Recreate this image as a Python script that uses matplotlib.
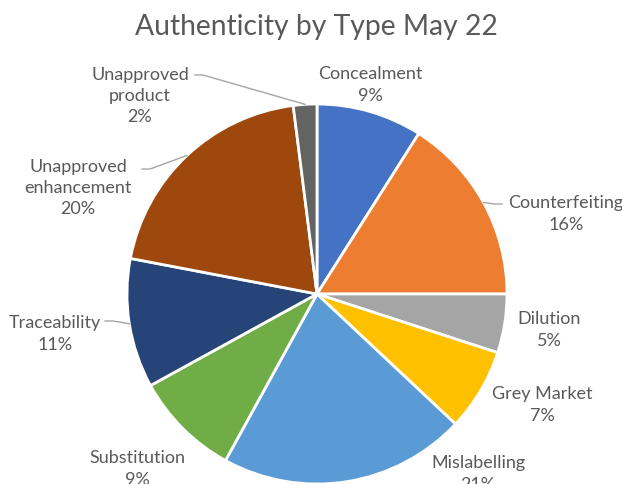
import numpy as np
import matplotlib.pyplot as plt

plt.rcParams['font.family'] = ['Lato', 'DejaVu Sans']

categories = ['Concealment', 'Counterfeiting', 'Dilution', 'Grey Market',
              'Mislabelling', 'Substitution', 'Traceability',
              'Unapproved\nenhancement', 'Unapproved\nproduct']
shares = [9, 16, 5, 7, 21, 9, 11, 20, 2]

colors = ['#4472C4', '#ED7D31', '#A5A5A5', '#FFC000', '#5B9BD5',
          '#70AD47', '#264478', '#9E480E', '#636363']

W, H = 622, 485
cx, cy, R = 317, 295, 190

# label centres in pixel coords (top-left origin)
label_xy = [(370, 85), (566, 214), (549, 330), (542, 405), (478, 474),
            (137, 469), (55, 334), (78, 188), (140, 96)]
# leader line start (near the text), None when no leader
leader_from = [None, (502, 205), None, None, None, None,
               (105, 322), (142, 170), (195, 76)]

def px(x, y):
    return x, H - y

fig = plt.figure(figsize=(W / 100, H / 100), dpi=100)
ax = fig.add_axes([0, 0, 1, 1])

wedges, _ = ax.pie(shares, colors=colors, startangle=90, counterclock=False,
                   center=px(cx, cy), radius=R,
                   wedgeprops=dict(edgecolor='white', linewidth=2))

total = float(sum(shares))
cum = np.cumsum([0] + shares)
for i, (name, v) in enumerate(zip(categories, shares)):
    lx, ly = px(*label_xy[i])
    ax.text(lx, ly, f'{name}\n{v}%', ha='center', va='center',
            fontsize=13, color='#595959', linespacing=1.4,
            multialignment='center')
    if leader_from[i] is not None:
        mid = (cum[i] + v / 2) / total * 2 * np.pi
        ex, ey = cx + R * np.sin(mid), cy - R * np.cos(mid)
        sx, sy = leader_from[i]
        step = 8 if ex > sx else -8
        xs = [sx, sx + step, ex]
        ys = [sy, sy, ey]
        ax.plot(xs, [H - y for y in ys], color='#A6A6A6', lw=1)

ax.text(W / 2 + 5, H - 27, 'Authenticity by Type May 22', ha='center',
        va='center', fontsize=20.3, color='#595959')

ax.set_xlim(0, W)
ax.set_ylim(0, H)
ax.axis('off')

fig.savefig('out.png', dpi=100)
